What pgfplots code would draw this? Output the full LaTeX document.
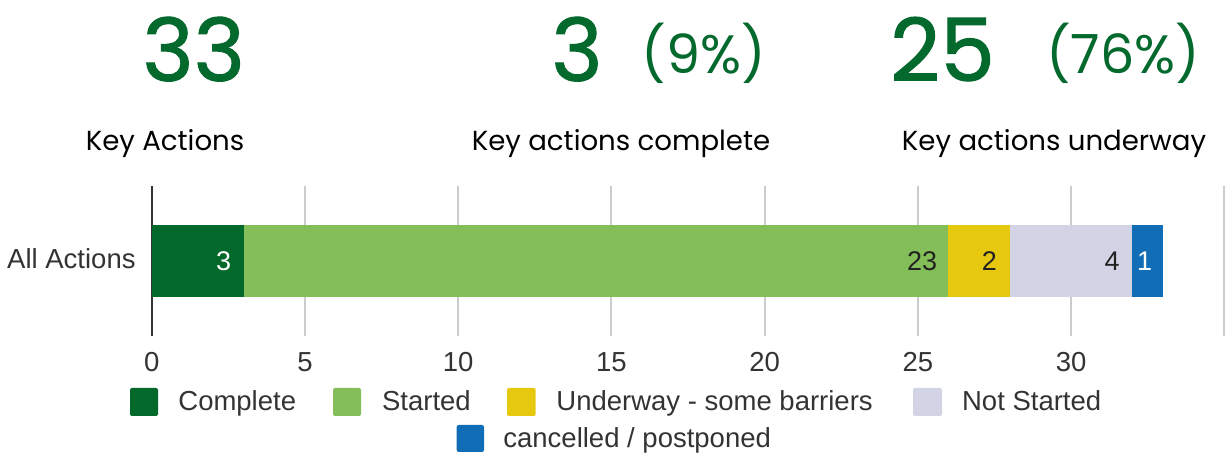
\documentclass[border=0pt]{standalone}
\usepackage{fontspec}
\setmainfont{Liberation Sans}
\newfontfamily\popfont{Poppins}
\newfontfamily\popbold{Poppins}[FakeBold=1.2]
\usepackage{pgfplots}
\pgfplotsset{compat=1.18}
\definecolor{cComplete}{HTML}{03692A}
\definecolor{cStarted}{HTML}{84BE58}
\definecolor{cUnder}{HTML}{E6C90F}
\definecolor{cNot}{HTML}{D2D4E6}
\definecolor{cCanc}{HTML}{116EB6}
\definecolor{cGreen}{HTML}{04692D}
\definecolor{cGrid}{HTML}{CCCCCC}
\definecolor{cAxis}{HTML}{333333}
\definecolor{cText}{HTML}{333333}
\definecolor{cDark}{HTML}{222222}
\newcommand{\lf}{\fontsize{13.75}{16}\selectfont}
\newcommand{\bigf}{\popbold\fontsize{43.5}{46}\selectfont}
\newcommand{\midf}{\popfont\fontsize{27}{30}\selectfont}
\begin{document}
\begin{tikzpicture}
\useasboundingbox (0pt,0pt) rectangle (612.5pt,227pt);
% headline figures
\node[anchor=base, inner sep=0pt, text=cGreen, font=\bigf] at (96.85pt,186.5pt) {33};
\node[anchor=base, inner sep=0pt, text=cGreen, font=\bigf] at (288.5pt,186.5pt) {3};
\node[anchor=base, inner sep=0pt, text=cGreen, font=\midf] at (351.75pt,190.35pt) {(9\%)};
\node[anchor=base, inner sep=0pt, text=cGreen, font=\bigf] at (471.25pt,186.5pt) {25};
\node[anchor=base, inner sep=0pt, text=cGreen, font=\midf] at (561.65pt,190.35pt) {(76\%)};
\node[anchor=base, inner sep=0pt, text=black, font=\popfont\fontsize{13.8}{16}\selectfont] at (82.5pt,151.5pt) {Key Actions};
\node[anchor=base, inner sep=0pt, text=black, font=\popfont\fontsize{13.8}{16}\selectfont] at (310.5pt,151.5pt) {Key actions complete};
\node[anchor=base, inner sep=0pt, text=black, font=\popfont\fontsize{13.8}{16}\selectfont] at (527pt,151.5pt) {Key actions underway};
\begin{axis}[
  at={(75.85pt,59pt)}, anchor=south west,
  scale only axis, width=536.3pt, height=75pt,
  xmin=0, xmax=35, ymin=0, ymax=1,
  enlargelimits=false,
  xbar stacked, bar width=36.35pt,
  axis line style={draw=none},
  xtick={0,5,...,30},
  extra x ticks={35}, extra x tick labels={},
  extra x tick style={grid=major},
  ytick={0.5}, yticklabels={All Actions},
  major tick length=0pt,
  xmajorgrids, grid style={cGrid, line width=1pt},
  tick label style={font=\lf, text=cText},
  xticklabel style={anchor=base, inner sep=0pt, yshift=-17.85pt},
  yticklabel style={anchor=base east, inner sep=0pt, xshift=-7.85pt, yshift=-3.6pt},
  /pgf/number format/assume math mode=true,
  point meta=explicit symbolic,
  nodes near coords,
  every node near coord/.style={anchor=east, inner sep=0pt, font=\fontsize{13.5}{16}\selectfont, text=cDark},
  clip=false,
]
\addplot[fill=cComplete, draw=none, every node near coord/.append style={text=white, xshift=16.98pt}] coordinates {(3,0.5) [3]};
\addplot[fill=cStarted, draw=none, every node near coord/.append style={xshift=170.7pt}] coordinates {(23,0.5) [23]};
\addplot[fill=cUnder, draw=none, every node near coord/.append style={xshift=9.1pt}] coordinates {(2,0.5) [2]};
\addplot[fill=cNot, draw=none, every node near coord/.append style={xshift=24.5pt}] coordinates {(4,0.5) [4]};
\addplot[fill=cCanc, draw=none, every node near coord/.append style={text=white, xshift=2.4pt}] coordinates {(1,0.5) [1]};
\draw[cAxis, line width=1pt] (axis cs:0,0) -- (axis cs:0,1);
\end{axis}
% legend
\fill[cComplete, rounded corners=1pt] (65pt,19pt) rectangle (79pt,33pt);
\node[anchor=base west, inner sep=0pt, text=cText, font=\lf] at (89pt,21.5pt) {Complete};
\fill[cStarted, rounded corners=1pt] (166.5pt,19pt) rectangle (180.5pt,33pt);
\node[anchor=base west, inner sep=0pt, text=cText, font=\lf] at (190.85pt,21.5pt) {Started};
\fill[cUnder, rounded corners=1pt] (253.5pt,19pt) rectangle (267.85pt,33pt);
\node[anchor=base west, inner sep=0pt, text=cText, font=\lf] at (278pt,21.5pt) {Underway - some barriers};
\fill[cNot, rounded corners=1pt] (456.5pt,19pt) rectangle (471pt,33pt);
\node[anchor=base west, inner sep=0pt, text=cText, font=\lf] at (480.85pt,21.5pt) {Not Started};
\fill[cCanc, rounded corners=1pt] (228.35pt,1pt) rectangle (242pt,14.5pt);
\node[anchor=base west, inner sep=0pt, text=cText, font=\lf] at (251.5pt,3.25pt) {cancelled / postponed};
\end{tikzpicture}
\end{document}
